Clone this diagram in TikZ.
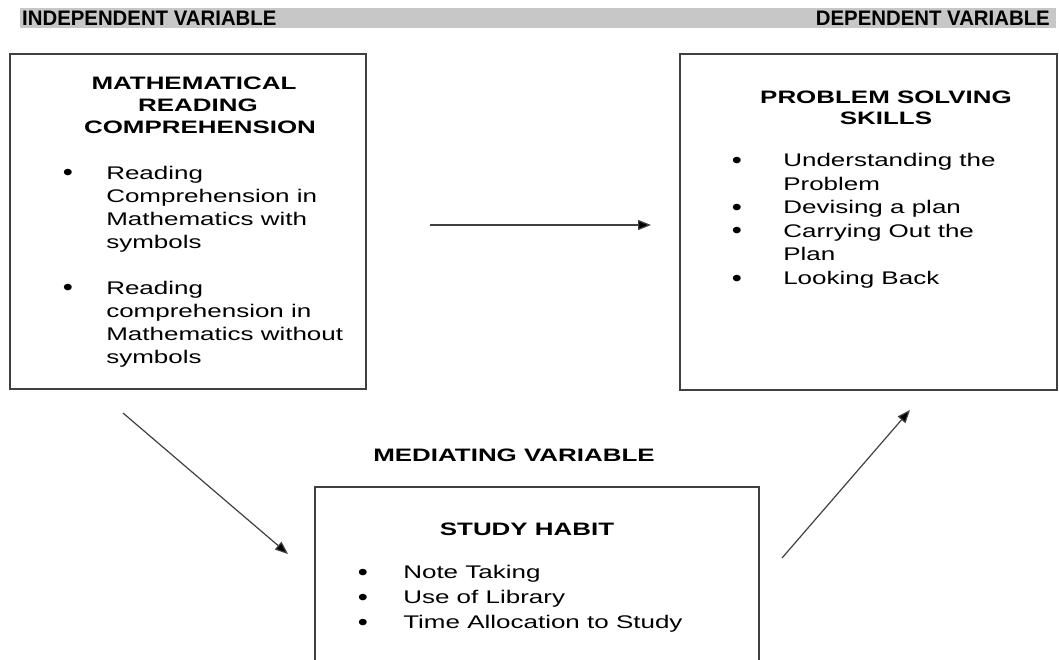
\documentclass[tikz,border=0pt]{standalone}
\usepackage{fontspec}
\setmainfont{Liberation Sans}
\usetikzlibrary{arrows.meta}
\tikzstyle{varbox}=[draw=black!75, line width=1.3pt, inner sep=0pt]
\tikzstyle{headtext}=[font=\fontsize{21}{22}\selectfont\bfseries, xscale=0.97, transform shape, inner sep=0pt]
\tikzstyle{boxtitle}=[font=\fontsize{18}{22}\selectfont\bfseries, xscale=1.44, transform shape, inner sep=0pt, anchor=base]
\tikzstyle{itemtext}=[font=\fontsize{18.3}{23}\selectfont, xscale=1.42, transform shape, inner sep=0pt, anchor=base west]
\tikzstyle{bulletmark}=[font=\fontsize{24}{23}\selectfont, xscale=1.2, transform shape, inner sep=0pt, anchor=base, yshift=-1.5pt]
\tikzstyle{link}=[draw=black!75, line width=1.2pt, -{Triangle[length=13pt,width=10pt,fill=black]}]

\begin{document}
\begin{tikzpicture}[x=1pt, y=1pt]
	\clip (0,0) rectangle (1059,-659);
	% header bar
	\fill [black!22] (20,-8) rectangle (1056,-28);
	\node [style=headtext, anchor=base west] (indep) at (22,-25.5) {INDEPENDENT VARIABLE};
	\node [style=headtext, anchor=base east] (dep) at (1050,-25.5) {DEPENDENT VARIABLE};

	% boxes
	\node [style=varbox, minimum width=356, minimum height=335] (mrc) at (188,-221.5) {};
	\node [style=varbox, minimum width=377, minimum height=336] (pss) at (868.5,-222) {};
	\node [style=varbox, minimum width=444, minimum height=200] (habit) at (537,-587) {};

	% independent variable
	\node [style=boxtitle] (mrc1) at (194,-89.5) {MATHEMATICAL};
	\node [style=boxtitle] (mrc2) at (198,-111.5) {READING};
	\node [style=boxtitle] (mrc3) at (200,-133.5) {COMPREHENSION};
	\node [style=bulletmark] (b1) at (68,-179) {\textbullet};
	\foreach \line [count=\i] in {Reading, Comprehension in, Mathematics with, symbols}
		\node [style=itemtext] (wa\i) at (106,{-179-23*(\i-1)}) {\line};
	\node [style=bulletmark] (b2) at (68,-294) {\textbullet};
	\foreach \line [count=\i] in {Reading, comprehension in, Mathematics without, symbols}
		\node [style=itemtext] (wo\i) at (106,{-294-23*(\i-1)}) {\line};

	% dependent variable
	\node [style=boxtitle] (pss1) at (886,-103.5) {PROBLEM SOLVING};
	\node [style=boxtitle] (pss2) at (886,-124.5) {SKILLS};
	\foreach \line [count=\i] in {Understanding the, Problem, Devising a plan, Carrying Out the, Plan, Looking Back}
		\node [style=itemtext] (ps\i) at (783,{-166.5-23.6*(\i-1)}) {\line};
	\foreach \i in {1,3,4,6}
		\node [style=bulletmark] (pb\i) at (737,{-166.5-23.6*(\i-1)}) {\textbullet};

	% mediating variable
	\node [style=boxtitle] (med) at (514,-461.5) {MEDIATING VARIABLE};
	\node [style=boxtitle] (habit1) at (527,-535.5) {STUDY HABIT};
	\foreach \line [count=\i] in {Note Taking, Use of Library, Time Allocation to Study} {
		\node [style=bulletmark] (hb\i) at (363,{-578.5-25*(\i-1)}) {\textbullet};
		\node [style=itemtext] (ht\i) at (403,{-578.5-25*(\i-1)}) {\line};
	}

	% arrows
	\coordinate (h1) at (430,-225);
	\coordinate (h2) at (651,-225);
	\coordinate (d1) at (123,-413);
	\coordinate (d2) at (288,-554);
	\coordinate (u1) at (782,-558);
	\coordinate (u2) at (910,-410);
	\draw [style=link] (h1) to (h2);
	\draw [style=link] (d1) to (d2);
	\draw [style=link] (u1) to (u2);
\end{tikzpicture}
\end{document}
